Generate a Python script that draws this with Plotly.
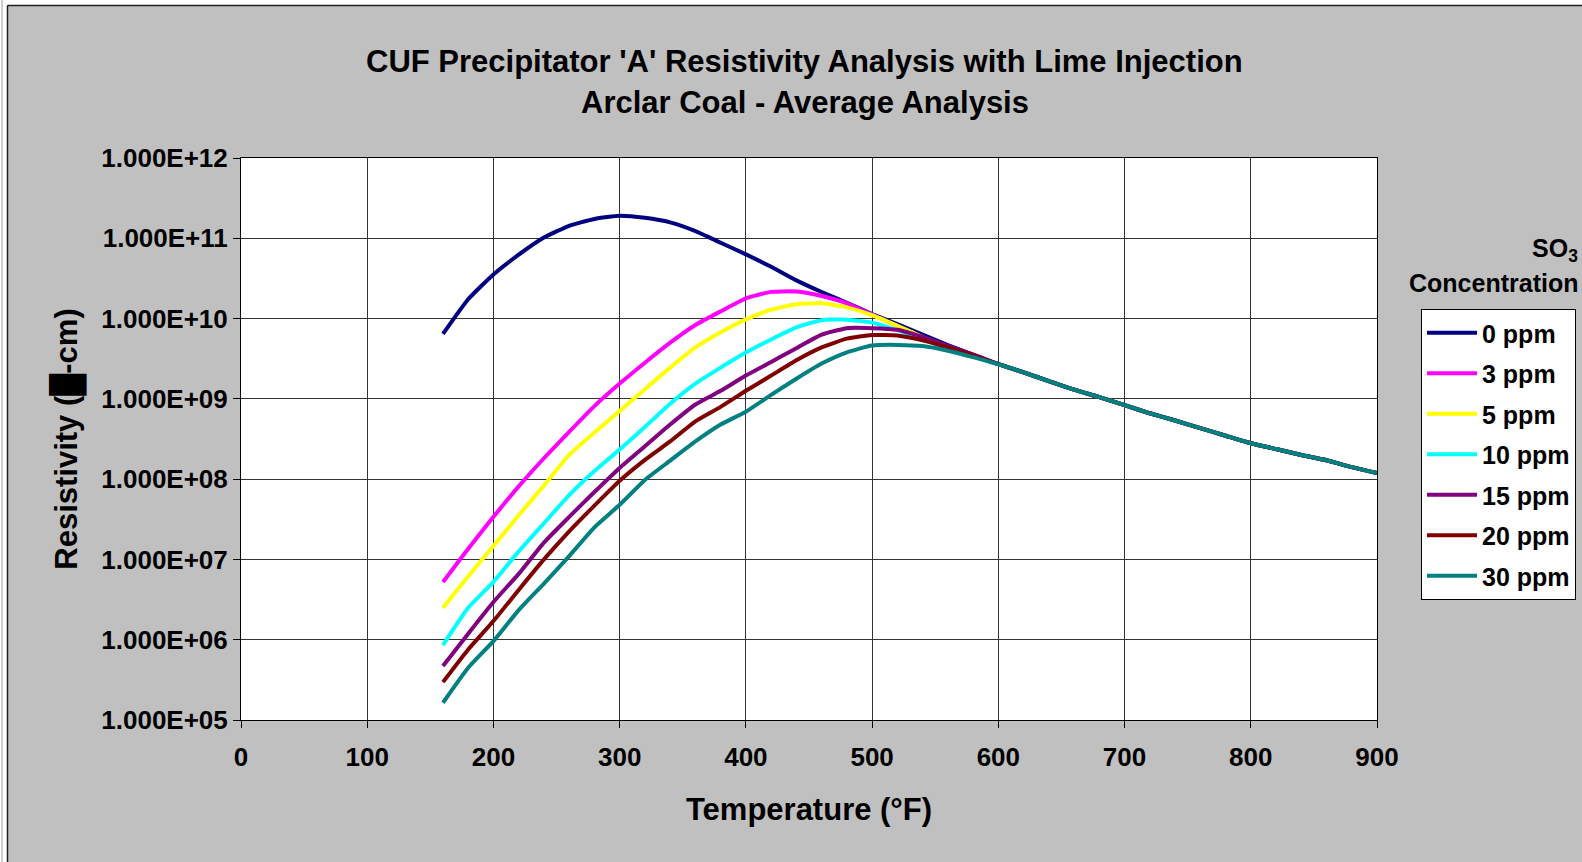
import plotly.graph_objects as go

# ---------------- data ----------------
temperature_f = [160, 180, 200, 220, 240, 260, 280, 300, 320, 340, 360, 380, 400,
                 420, 440, 460, 480, 500, 520, 540, 560, 580, 600,
                 620, 640, 660, 680, 700, 720, 740, 760, 780, 800, 820, 840, 860, 880, 900]

# common high-temperature branch (620-900 F), all concentrations coincide
tail_620_900 = [2.14e9, 1.66e9, 1.30e9, 1.05e9, 8.34e8, 6.61e8, 5.37e8, 4.32e8,
                3.47e8, 2.80e8, 2.37e8, 2.00e8, 1.72e8, 1.41e8, 1.19e8]

ppm_0 = [6.43e9, 1.74e10, 3.55e10, 6.24e10, 1.02e11, 1.43e11, 1.74e11, 1.91e11,
         1.80e11, 1.58e11, 1.23e11, 8.81e10, 6.31e10, 4.42e10, 2.99e10, 2.14e10,
         1.57e10, 1.14e10, 8.51e9, 6.31e9, 4.68e9, 3.55e9, 2.70e9]
ppm_3 = [5.22e6, 1.36e7, 3.39e7, 8.13e7, 1.82e8, 3.89e8, 8.13e8, 1.55e9,
         2.82e9, 5.01e9, 8.32e9, 1.23e10, 1.79e10, 2.15e10, 2.17e10, 1.91e10,
         1.55e10, 1.12e10, 8.13e9, 5.89e9, 4.47e9, 3.47e9, 2.70e9]
ppm_5 = [2.50e6, 6.19e6, 1.47e7, 3.55e7, 8.32e7, 2.00e8, 3.80e8, 7.08e8,
         1.32e9, 2.45e9, 4.37e9, 6.76e9, 9.77e9, 1.29e10, 1.51e10, 1.55e10,
         1.38e10, 1.10e10, 8.13e9, 5.89e9, 4.37e9, 3.47e9, 2.70e9]
ppm_10 = [8.57e5, 2.50e6, 5.25e6, 1.26e7, 2.82e7, 6.31e7, 1.26e8, 2.34e8,
          4.47e8, 8.71e8, 1.55e9, 2.45e9, 3.77e9, 5.50e9, 7.76e9, 9.55e9,
          9.70e9, 8.91e9, 7.16e9, 5.50e9, 4.22e9, 3.39e9, 2.70e9]
ppm_15 = [4.70e5, 1.19e6, 2.95e6, 6.61e6, 1.62e7, 3.39e7, 6.92e7, 1.38e8,
          2.57e8, 4.79e8, 8.51e8, 1.26e9, 1.95e9, 2.88e9, 4.27e9, 6.31e9,
          7.59e9, 7.59e9, 7.24e9, 5.89e9, 4.57e9, 3.55e9, 2.70e9]
ppm_20 = [2.96e5, 7.57e5, 1.71e6, 4.17e6, 1.00e7, 2.24e7, 4.68e7, 9.55e7,
          1.74e8, 2.95e8, 5.25e8, 7.94e8, 1.26e9, 1.95e9, 3.02e9, 4.37e9,
          5.62e9, 6.24e9, 6.17e9, 5.37e9, 4.37e9, 3.47e9, 2.70e9]
ppm_30 = [1.64e5, 4.48e5, 9.61e5, 2.34e6, 5.01e6, 1.10e7, 2.51e7, 4.79e7,
          9.77e7, 1.70e8, 2.95e8, 4.79e8, 6.92e8, 1.12e9, 1.78e9, 2.75e9,
          3.80e9, 4.62e9, 4.70e9, 4.55e9, 3.98e9, 3.31e9, 2.70e9]

series_names = ["0 ppm", "3 ppm", "5 ppm", "10 ppm", "15 ppm", "20 ppm", "30 ppm"]
series_values = [ppm_0, ppm_3, ppm_5, ppm_10, ppm_15, ppm_20, ppm_30]
series_colors = ["#000080", "#FF00FF", "#FFFF00", "#00FFFF", "#800080", "#800000", "#008080"]

x_ticks = [0, 100, 200, 300, 400, 500, 600, 700, 800, 900]
y_ticks = [1e5, 1e6, 1e7, 1e8, 1e9, 1e10, 1e11, 1e12]
y_tick_labels = ["1.000E+05", "1.000E+06", "1.000E+07", "1.000E+08",
                 "1.000E+09", "1.000E+10", "1.000E+11", "1.000E+12"]

title_line1 = "CUF Precipitator 'A' Resistivity Analysis with Lime Injection"
title_line2 = "Arclar Coal - Average Analysis"

# ---------------- figure ----------------
FONT = "Liberation Sans, Arial, Helvetica, sans-serif"
W, H = 1582, 862
L, R, T, B = 241, 205, 158, 142
PW, PH = W - L - R, H - T - B


def px_x(p):
    return (p - L) / PW


def px_y(p):
    return (H - B - p) / PH


fig = go.Figure()
for name, vals, col in zip(series_names, series_values, series_colors):
    fig.add_trace(go.Scatter(
        x=temperature_f, y=vals + tail_620_900, mode="lines", name=name,
        legendgroup=name,
        line=dict(color=col, width=4, shape="spline", smoothing=0.5),
    ))

axis_common = dict(
    showgrid=True, gridcolor="#333333", gridwidth=1,
    showline=True, linecolor="black", linewidth=1, mirror=True,
    ticks="outside", ticklen=7, tickcolor="black", tickwidth=1,
    tickfont=dict(family=FONT, size=26, color="black", weight="bold"),
    zeroline=False, automargin=False,
)

fig.update_layout(
    width=W, height=H, autosize=False,
    margin=dict(l=L, r=R, t=T, b=B, pad=0, autoexpand=False),
    paper_bgcolor="#c0c0c0", plot_bgcolor="white",
    font=dict(family=FONT, color="black"),
    showlegend=True,
    legend=dict(
        xref="container", yref="container",
        x=1421 / W, y=1 - 309 / H, xanchor="left", yanchor="top",
        bgcolor="white", bordercolor="black", borderwidth=1,
        font=dict(family=FONT, size=25, color="black", weight="bold"),
        tracegroupgap=5, itemwidth=50, traceorder="grouped",
    ),
    xaxis=dict(
        range=[0, 900], tickvals=x_ticks, ticktext=[str(v) for v in x_ticks],
        ticklabelstandoff=7,
        title=dict(text="Temperature (°F)", standoff=27,
                   font=dict(family=FONT, size=31, color="black", weight="bold")),
        **axis_common,
    ),
    yaxis=dict(
        type="log", range=[5, 12], tickvals=y_ticks, ticktext=y_tick_labels,
        title=dict(text="Resistivity (█-cm)", standoff=14,
                   font=dict(family=FONT, size=31, color="black", weight="bold")),
        **axis_common,
    ),
    annotations=[
        dict(text=title_line1, x=px_x(804.6), y=px_y(61), xref="paper", yref="paper",
             xanchor="center", yanchor="middle", showarrow=False,
             font=dict(family=FONT, size=31, color="black", weight="bold")),
        dict(text=title_line2, x=px_x(804.6), y=px_y(102), xref="paper", yref="paper",
             xanchor="center", yanchor="middle", showarrow=False,
             font=dict(family=FONT, size=31, color="black", weight="bold")),
        dict(text="SO<sub>3</sub>", x=px_x(1580), y=px_y(250), xref="paper", yref="paper",
             xanchor="right", yanchor="middle", showarrow=False,
             font=dict(family=FONT, size=25, color="black", weight="bold")),
        dict(text="Concentration", x=px_x(1580), y=px_y(283), xref="paper", yref="paper",
             xanchor="right", yanchor="middle", showarrow=False,
             font=dict(family=FONT, size=25, color="black", weight="bold")),
    ],
    shapes=[
        # white page margin strips around the grey chart area
        dict(type="rect", xref="paper", yref="paper", x0=px_x(-5), x1=px_x(7),
             y0=px_y(870), y1=px_y(-5), fillcolor="white", line=dict(width=0), layer="above"),
        dict(type="rect", xref="paper", yref="paper", x0=px_x(-5), x1=px_x(1590),
             y0=px_y(5), y1=px_y(-5), fillcolor="white", line=dict(width=0), layer="above"),
        # chart frame
        dict(type="line", xref="paper", yref="paper", x0=px_x(7.5), x1=px_x(7.5),
             y0=px_y(5.5), y1=px_y(870), line=dict(color="#202020", width=1.5), layer="above"),
        dict(type="line", xref="paper", yref="paper", x0=px_x(7.5), x1=px_x(1590),
             y0=px_y(5.5), y1=px_y(5.5), line=dict(color="#202020", width=1.5), layer="above"),
        dict(type="line", xref="paper", yref="paper", x0=px_x(2), x1=px_x(2),
             y0=px_y(0), y1=px_y(870), line=dict(color="#9a9a9a", width=1), layer="above"),
    ],
)

fig.write_html(
    "out.html",
    config={"displayModeBar": False},
    post_script="document.body.style.margin='0';document.body.style.overflow='hidden';",
)
